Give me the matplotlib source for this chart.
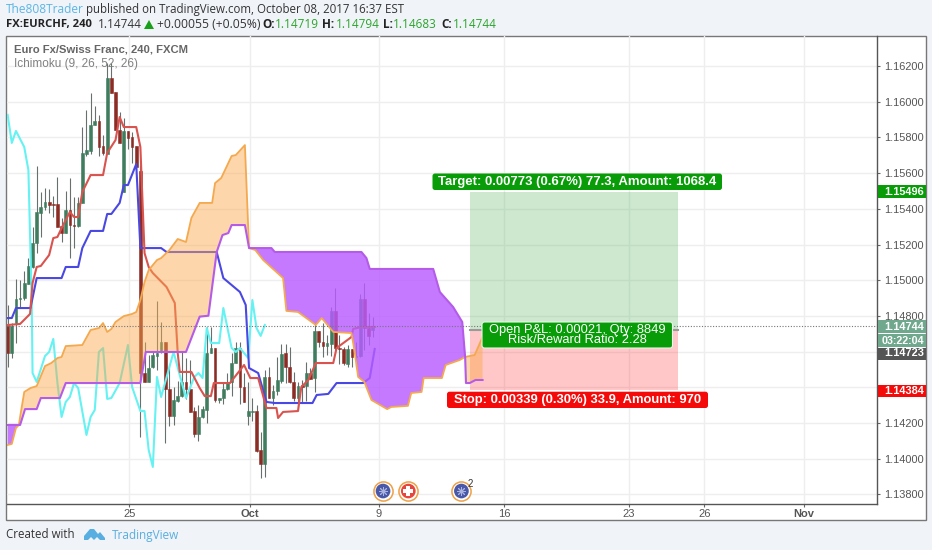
import numpy as np
import matplotlib
matplotlib.use("Agg")
import matplotlib.pyplot as plt
from matplotlib.patches import Rectangle, FancyBboxPatch, Polygon
from matplotlib.transforms import Affine2D

W, H = 932, 550

# ---------- candles (EURCHF, 240) ----------
opens = [1.14749,1.14592,1.14760,1.14895,1.14900,1.14979,1.15074,1.15208,1.15376,1.15410,1.15438,1.15427,1.15427,1.15304,1.15264,1.15393,1.15309,1.15304,1.15432,1.15707,1.15724,1.15869,1.15892,1.15752,1.15707,1.16133,1.16054,1.15841,1.15494,1.15836,1.15802,1.15752,1.15612,1.14480,1.14430,1.14514,1.14575,1.14598,1.14654,1.14391,1.14239,1.14323,1.14351,1.14430,1.14391,1.14267,1.14138,1.14234,1.14273,1.14592,1.14620,1.14329,1.14340,1.14391,1.14430,1.14536,1.14620,1.14402,1.14239,1.14262,1.14267,1.14049,1.13970,1.14458,1.14340,1.14379,1.14435,1.14592,1.14514,1.14430,1.14340,1.14413,1.14407,1.14480,1.14452,1.14715,1.14654,1.14631,1.14642,1.14827,1.14620,1.14615,1.14530,1.14615,1.14570,1.14575,1.14895,1.14732,1.14719]
highs = [1.14861,1.14760,1.15007,1.15001,1.15051,1.15124,1.15298,1.15640,1.15494,1.15516,1.15511,1.15472,1.15578,1.15348,1.15500,1.15572,1.15466,1.15466,1.15858,1.15953,1.16049,1.15976,1.15926,1.15813,1.16217,1.16217,1.16054,1.15942,1.15909,1.15836,1.15830,1.15752,1.15645,1.14654,1.14581,1.14598,1.14883,1.14766,1.14654,1.14525,1.14402,1.14435,1.14603,1.14564,1.14553,1.14290,1.14301,1.14295,1.14738,1.14738,1.14620,1.14340,1.14424,1.14480,1.14592,1.14654,1.14654,1.14480,1.14430,1.14340,1.14301,1.14150,1.14497,1.14514,1.14413,1.14570,1.14642,1.14642,1.14626,1.14486,1.14430,1.14441,1.14542,1.14508,1.14760,1.14715,1.14760,1.14693,1.14850,1.14956,1.14693,1.14626,1.14637,1.14615,1.14654,1.14923,1.14984,1.14816,1.14794]
lows = [1.14514,1.14564,1.14648,1.14850,1.14889,1.14979,1.15068,1.15152,1.15242,1.15393,1.15376,1.15354,1.15298,1.15214,1.15264,1.15124,1.15180,1.15298,1.15432,1.15696,1.15707,1.15869,1.15696,1.15701,1.15707,1.16049,1.15841,1.15769,1.15494,1.15735,1.15657,1.15618,1.14122,1.14430,1.14430,1.14508,1.14497,1.14592,1.14088,1.14183,1.14189,1.14318,1.14346,1.14335,1.14262,1.14122,1.14099,1.14228,1.14200,1.14592,1.14318,1.14312,1.14306,1.14385,1.14351,1.14536,1.14306,1.14318,1.14189,1.14211,1.14037,1.13892,1.13898,1.14340,1.14301,1.14357,1.14424,1.14424,1.14424,1.14323,1.14273,1.14318,1.14323,1.14447,1.14374,1.14626,1.14570,1.14581,1.14575,1.14609,1.14530,1.14525,1.14514,1.14514,1.14514,1.14570,1.14609,1.14637,1.14683]
closes = [1.14592,1.14743,1.14895,1.14900,1.14984,1.15079,1.15208,1.15382,1.15410,1.15438,1.15421,1.15421,1.15298,1.15264,1.15393,1.15309,1.15304,1.15432,1.15713,1.15729,1.15869,1.15892,1.15746,1.15713,1.16133,1.16049,1.15841,1.15769,1.15836,1.15797,1.15746,1.15634,1.14480,1.14430,1.14508,1.14581,1.14592,1.14654,1.14391,1.14239,1.14329,1.14351,1.14430,1.14391,1.14262,1.14138,1.14234,1.14278,1.14592,1.14620,1.14329,1.14340,1.14391,1.14430,1.14536,1.14620,1.14402,1.14318,1.14267,1.14267,1.14043,1.13970,1.14458,1.14340,1.14379,1.14441,1.14587,1.14514,1.14430,1.14340,1.14407,1.14402,1.14480,1.14447,1.14715,1.14654,1.14631,1.14648,1.14827,1.14620,1.14615,1.14536,1.14615,1.14570,1.14575,1.14895,1.14732,1.14687,1.14744]

# ---------- Ichimoku ----------
tenkan_x = [0,3,5.4,6,7,8,10,11,12,13,15,16,17,18,20,23,24,26,27,28,31,32,33,34,35,38.3,40.3,41,41.5,44.3,46.3,47.5,49,49.7,53.6,57,58.5,60.4,62.4,64.8,65.2,66.4,70,70.8,72.5,74.3,78.5,79.3,82.9,83.3,85.3,88.5]
tenkan_y = [1.14749,1.14755,1.14811,1.14984,1.15074,1.15080,1.15141,1.15236,1.15242,1.15292,1.15382,1.15354,1.15354,1.15494,1.15589,1.15589,1.15713,1.15785,1.15914,1.15858,1.15858,1.15746,1.15152,1.15074,1.15040,1.14962,1.14872,1.14592,1.14486,1.14486,1.14396,1.14351,1.14351,1.14424,1.14424,1.14525,1.14452,1.14452,1.14284,1.14284,1.14228,1.14262,1.14267,1.14402,1.14441,1.14536,1.14536,1.14620,1.14682,1.14727,1.14738,1.14738]

kijun_x = [0,1,2,5.5,7,13,14,17,18,20,23,24,25,27,28,29,31,32,37,38.3,50.4,52,56,57.4,58.2,60.4,62.4,64.4,73.5,74.5,77.3,79.3,85.7,87.3,88.5]
kijun_y = [1.14788,1.14788,1.14844,1.14844,1.15012,1.15012,1.15074,1.15074,1.15180,1.15276,1.15276,1.15371,1.15371,1.15433,1.15533,1.15533,1.15651,1.15180,1.15180,1.15158,1.15158,1.15012,1.14934,1.14861,1.14508,1.14480,1.14318,1.14312,1.14312,1.14357,1.14363,1.14424,1.14424,1.14452,1.14615]

chikou_x = [0,1,2,4,5,5.8,6,7,9,10,11,12,13,14,15,16,17,19,20,21,22,23,24,25,27,29,30,32,33,34,35,36,37,40,42,43,45,46,47,48,49,51,52,54,55,56,58,59,60,61,62]
chikou_y = [1.15926,1.15769,1.15836,1.15746,1.15617,1.14889,1.14480,1.14430,1.14575,1.14598,1.14671,1.14424,1.14234,1.14318,1.14346,1.14424,1.14396,1.14133,1.14234,1.14273,1.14598,1.14620,1.14335,1.14340,1.14424,1.14637,1.14402,1.14267,1.14267,1.14049,1.13954,1.14458,1.14346,1.14598,1.14424,1.14340,1.14458,1.14480,1.14452,1.14732,1.14648,1.14648,1.14844,1.14620,1.14598,1.14620,1.14564,1.14889,1.14732,1.14688,1.14749]

span_a_x = [0,1,2,2.7,3,4,5.5,7,8,9,10.5,12,13,14,18,20,22,23,24,25,26,28,30,31,32,33,34,36,37,39,41,43,44.3,46.3,49.3,50,51.5,54,55,57.2,58.2,59.7,61.6,66.4,67.2,70,74.3,75.7,77.3,78.5,82.9,83.7,84.5,86,87.7,91.5,92.5,96.5,97.3,99.8,100.3,104.7,105.6,109,110.3,112.6,114.5]
span_a_y = [1.14077,1.14083,1.14172,1.14189,1.14234,1.14374,1.14396,1.14407,1.14463,1.14519,1.14536,1.14564,1.14570,1.14631,1.14637,1.14721,1.14732,1.14760,1.14710,1.14727,1.14766,1.14799,1.14811,1.14822,1.14889,1.14990,1.15057,1.15113,1.15124,1.15169,1.15231,1.15214,1.15349,1.15433,1.15433,1.15544,1.15573,1.15696,1.15701,1.15757,1.15180,1.15169,1.15113,1.15012,1.14828,1.14822,1.14749,1.14788,1.14744,1.14710,1.14704,1.14592,1.14458,1.14430,1.14329,1.14278,1.14290,1.14296,1.14368,1.14374,1.14452,1.14452,1.14525,1.14553,1.14570,1.14581,1.14682]

span_b_x = [0,2.7,3,4.2,7,8,12.6,14,32,33.3,43,46.3,48.4,50.4,51.8,53.2,54,57.2,58.2,63.6,64.4,85.3,86.5,87.3,102.6,104.2,107.4,109.6,110.3,110.5,111.4,112.8,114.5]
span_b_y = [1.14189,1.14189,1.14189,1.14278,1.14278,1.14340,1.14340,1.14424,1.14424,1.14598,1.14598,1.14796,1.14801,1.15158,1.15253,1.15264,1.15309,1.15309,1.15180,1.15180,1.15158,1.15158,1.15124,1.15063,1.15063,1.14934,1.14850,1.14766,1.14570,1.14424,1.14424,1.14441,1.14441]

cloud_breaks = [0, 2.7, 58.2, 110.3, 114.5]
cloud_kinds = ["down", "up", "down", "up"]

# ---------- position tool ----------
pos_start, pos_end = 111.4, 161.5
target_price, entry_price, stop_price = 1.15496, 1.14723, 1.14384
last_price = 1.14744

# ---------- axes labels ----------
price_ticks = [1.138,1.140,1.142,1.144,1.146,1.148,1.150,1.152,1.154,1.156,1.158,1.160,1.162]
hidden_price_labels = [1.144, 1.146]   # covered by the price flags in the chart
time_ticks = [29.3,58.5,89.5,119.7,149.7,168.0,192.0]
time_labels = ["25","Oct","9","16","23","26","Nov"]
event_x = [90.5,96.6,109.4]
event_y = 1.13819

GREEN, RED = "#3f7d5e", "#8c2d25"
WICK = "#66706c"
GRID = "#eeeeee"
CHART_FONT = "Liberation Sans"
HEAD_FONT = "Open Sans"

fig = plt.figure(figsize=(W/100, H/100), dpi=100, facecolor="#f0f3f8")
pix = Affine2D().scale(1/W, -1/H).translate(0, 1) + fig.transFigure

fig.add_artist(Rectangle((6, 36), 920, 484, transform=pix, fc="white", ec="#777777", lw=1.0, zorder=-2))

ax = fig.add_axes([6.5/W, 1-503.7/H, (877-6.5)/W, (503.7-36)/H], facecolor="none")
ax.set_xlim(-0.28, 209.6)
ax.set_ylim(1.13748, 1.16368)
for s in ["top", "left"]:
    ax.spines[s].set_visible(False)
for s in ["right", "bottom"]:
    ax.spines[s].set_color("#555555")
    ax.spines[s].set_linewidth(1.0)

ax.yaxis.tick_right()
ax.set_yticks(price_ticks)
ax.set_yticklabels(["" if v in hidden_price_labels else f"{v:.5f}" for v in price_ticks],
                   fontsize=7.9, color="#555555", family=CHART_FONT)
ax.set_xticks(time_ticks)
ax.set_xticklabels(time_labels, fontsize=8.0, color="#555555", family=CHART_FONT)
for lab in ax.get_xticklabels():
    if lab.get_text() in ("Oct", "Nov"):
        lab.set_fontweight("bold")
ax.tick_params(axis="y", length=2.5, width=0.8, color="#666666", pad=2.8)
ax.tick_params(axis="x", length=2.5, width=0.8, color="#666666", pad=1.5)
ax.grid(True, color=GRID, lw=1.0, zorder=0)
ax.set_axisbelow(True)

# position rectangles
ax.add_patch(Rectangle((pos_start, entry_price), pos_end-pos_start, target_price-entry_price,
                       fc="#4caf50", alpha=0.28, ec="none", zorder=1))
ax.add_patch(Rectangle((pos_start, stop_price), pos_end-pos_start, entry_price-stop_price,
                       fc="#ff3030", alpha=0.27, ec="none", zorder=1))
ax.plot([pos_start, pos_end], [entry_price, entry_price], color="#9a9a9a", lw=1.5, zorder=1.5)

# candles
idx = np.arange(len(opens))
o, h, l, c = map(np.array, (opens, highs, lows, closes))
ax.vlines(idx, l, h, color=WICK, lw=0.8, zorder=2)
cols = [GREEN if cc >= oo else RED for oo, cc in zip(o, c)]
ax.bar(idx, np.maximum(np.abs(c-o), 0.00003), bottom=np.minimum(o, c), width=0.66,
       color=cols, edgecolor=cols, lw=0.4, zorder=2.5)

# lines
ax.plot(chikou_x, chikou_y, color="#66f2f2", lw=1.5, zorder=3)
ax.plot(kijun_x, kijun_y, color="#4a48e2", lw=1.5, zorder=3.1)
ax.plot(tenkan_x, tenkan_y, color="#d9534f", lw=1.5, zorder=3.2)

# cloud
ax_ = np.array(span_a_x); ay = np.array(span_a_y)
bx = np.array(span_b_x); by = np.array(span_b_y)
for lo, hi, kind in zip(cloud_breaks[:-1], cloud_breaks[1:], cloud_kinds):
    ma = (ax_ >= lo) & (ax_ <= hi)
    mb = (bx >= lo) & (bx <= hi)
    verts = np.r_[np.c_[ax_[ma], ay[ma]], np.c_[bx[mb], by[mb]][::-1]]
    if kind == "up":
        ax.add_patch(Polygon(verts, closed=True, fc="#fba94e", alpha=0.47, ec="none", zorder=4))
    else:
        ax.add_patch(Polygon(verts, closed=True, fc="#b85cff", alpha=0.82, ec="none", zorder=4))
ax.plot(span_a_x, span_a_y, color="#f4a94f", lw=1.3, zorder=4.5)
ax.plot(span_b_x, span_b_y, color="#b45ce8", lw=1.5, zorder=4.6)

# last price line
ax.axhline(last_price, color="#777777", lw=0.8, ls=(0, (1, 1.5)), zorder=5)

# events
ax.scatter(event_x, [event_y]*3, s=190, fc="white", ec="#eea045", lw=1.1, zorder=6)
ax.scatter(event_x[0::2], [event_y]*2, s=112, fc="#4a58a8", ec="none", zorder=7)
ax.scatter(event_x[1], event_y, s=112, fc="#e8453c", ec="none", zorder=7)
ax.scatter(event_x[0::2], [event_y]*2, s=34, marker=(8, 2, 0), c="#aab4dd", lw=0.7, zorder=8)
ax.scatter(event_x[1], event_y, s=50, marker="P", c="white", lw=0, zorder=8)
ax.text(event_x[2]+2.2, event_y+0.00042, "2", fontsize=7, color="#333333", family=CHART_FONT, zorder=9,
        ha="center", va="center")


def box(x0, y0, x1, y1, color, rounded=True, alpha=1.0, ec="none", z=10):
    style = "round,pad=0,rounding_size=2.5" if rounded else "square,pad=0"
    fig.add_artist(FancyBboxPatch((x0, y0), x1-x0, y1-y0, boxstyle=style, transform=pix,
                                  fc=color, ec=ec, lw=0.8, alpha=alpha, zorder=z))


def txt(x, y, s, color="#333333", size=9, weight="normal", ha="left", family=CHART_FONT, z=11):
    fig.text(x, y, s, transform=pix, color=color, fontsize=size, fontweight=weight,
             ha=ha, va="center", family=family, zorder=z)


# position labels
box(432.5, 173.5, 722, 190, "#089c08")
txt(577, 181.7, "Target: 0.00773 (0.67%) 77.3, Amount: 1068.4", "white", 9.45, "bold", "center")
box(447, 391.7, 708, 408, "#f50a0a")
txt(577.5, 399.8, "Stop: 0.00339 (0.30%) 33.9, Amount: 970", "white", 9.4, "bold", "center")
box(482, 322, 672.5, 348, "#089c08", ec="#e8f5e8")
txt(577, 329.6, "Open P&L: 0.00021, Qty: 8849", "white", 9.3, "normal", "center")
txt(577, 340.4, "Risk/Reward Ratio: 2.28", "white", 9.3, "normal", "center")

# price axis flags
box(877.5, 185, 926, 198, "#089c08", rounded=False)
txt(884, 191.7, "1.15496", "white", 7.9, "bold")
box(877.5, 320, 926, 333, "#6fa88c", rounded=False)
txt(884, 326.5, "1.14744", "white", 7.9, "bold")
box(877.5, 334, 926, 347, "#6fa88c", rounded=False)
txt(882, 340.5, "03:22:04", "white", 7.7, "bold")
box(877.5, 347.5, 926, 359.5, "#555555", rounded=False)
txt(884, 353.5, "1.14723", "white", 7.9, "bold")
box(877.5, 385, 926, 397, "#f50a0a", rounded=False)
txt(884, 391, "1.14384", "white", 7.9, "bold")

# legend texts
txt(14, 50, "Euro Fx/Swiss Franc, 240, FXCM", "#666666", 8.1, "bold")
txt(14, 64, "Ichimoku (9, 26, 52, 26)", "#808080", 8.5)

# header
txt(6, 9.5, "The808Trader", "#5cb6e6", 8.6, "normal", family=HEAD_FONT)
txt(86, 9.5, "published on TradingView.com, October 08, 2017 16:37 EST", "#333333", 8.3, family=HEAD_FONT)
txt(6, 24, "FX:EURCHF, 240", "#222222", 8.15, "bold", family=HEAD_FONT)
txt(98, 24, "1.14744", "#333333", 8.5, family=HEAD_FONT)
fig.add_artist(Polygon([(144, 29), (154, 29), (149, 20)], closed=True, transform=pix, fc="#18a018", ec="none"))
txt(157, 24, "+0.00055 (+0.05%)", "#333333", 8.7, family=HEAD_FONT)
for x_l, label, x_v, val in [(262, "O:", 275, "1.14719"), (322, "H:", 336, "1.14794"),
                             (383, "L:", 393, "1.14683"), (441, "C:", 453, "1.14744")]:
    txt(x_l, 24, label, "#222222", 8.5, "bold", family=HEAD_FONT)
    txt(x_v, 24, val, "#2aa52a", 8.5, family=HEAD_FONT)

# footer
txt(6, 535, "Created with", "#333333", 8.3, family=HEAD_FONT)
fig.add_artist(Polygon([(84, 540), (84, 536), (90, 529), (94, 529), (98, 534), (100, 532), (105, 538), (105, 540),
                        (100, 540), (97, 537), (94, 540), (91, 537), (88, 540)],
                       closed=True, transform=pix, fc="#58aee0", ec="none"))
txt(112, 535, "TradingView", "#58aee0", 8.5, family=HEAD_FONT)

fig.savefig("out.png", dpi=100, facecolor=fig.get_facecolor())
